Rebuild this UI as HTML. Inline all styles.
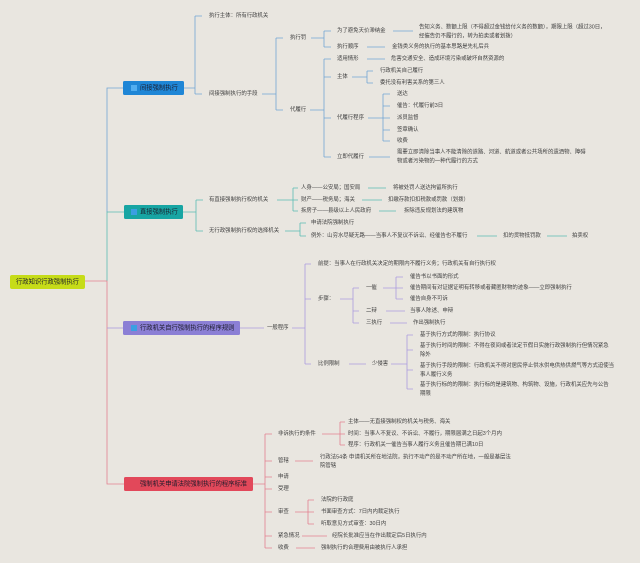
<!DOCTYPE html>
<html><head><meta charset="utf-8"><style>
html,body{margin:0;padding:0;background:#e9e6e0;}
svg{display:block;}
text{font-family:"Liberation Sans","Noto Sans CJK SC",sans-serif;font-size:5.4px;fill:#404040;dominant-baseline:central;}
.n{font-size:6.3px;fill:#1b1b2a;}
.b1{stroke:#72a5d4;}
.b2{stroke:#5abcb3;}
.b3{stroke:#ab9cde;}
.b4{stroke:#e3808f;}
path{fill:none;stroke-width:0.8;}
</style></head><body>
<svg width="640" height="563" viewBox="0 0 640 563" xmlns="http://www.w3.org/2000/svg">
<rect width="640" height="563" fill="#e9e6e0"/>

<!-- trunk -->
<path class="b1" d="M123,88 H107 V212"/>
<path class="b2" d="M124,212 H107 V281"/>
<path class="b4" d="M84,281 H107 V484 H124"/>
<path class="b3" d="M107,328 H123"/>

<!-- root -->
<rect x="10" y="275" width="75" height="14" rx="2" fill="#c6dc18"/>
<text class="n" x="16" y="282">行政知识行政强制执行</text>

<!-- ===== Branch 1 ===== -->
<rect x="123" y="81" width="61" height="14" rx="1.5" fill="#1f86d6"/>
<rect x="131" y="85" width="6" height="6" fill="#52aef0"/>
<text class="n" x="140" y="88">间接强制执行</text>
<path class="b1" d="M184,88 H195 M195,16 V94 M195,16 H202 M195,94 H202"/>
<text x="209" y="16">执行主体：所有行政机关</text>
<text x="209" y="94">间接强制执行的手段</text>
<path class="b1" d="M262,94 H276 M276,38 V110 M276,38 H283 M276,110 H283"/>
<text x="290" y="38">执行罚</text>
<text x="290" y="110">代履行</text>
<path class="b1" d="M311,38 H324 M324,31 V47 M324,31 H331 M324,47 H331"/>
<text x="337" y="31">为了避免天价滞纳金</text>
<path class="b1" d="M393,31 H413"/>
<text x="419" y="27.5">告知义务、数额上限（不得超过金钱给付义务的数额），期限上限（超过30日，</text>
<text x="419" y="36.5">经催告仍不履行的，转为拍卖或者划拨）</text>
<text x="337" y="47">执行顺序</text>
<path class="b1" d="M367,47 H385"/>
<text x="392" y="47">金钱类义务的执行的基本思路是先礼后兵</text>

<path class="b1" d="M310,110 H324 M324,59 V157 M324,59 H331 M324,77 H331 M324,118 H331 M324,157 H331"/>
<text x="337" y="59">适用情形</text>
<path class="b1" d="M367,59 H385"/>
<text x="391" y="59">危害交通安全、造成环境污染或破坏自然资源的</text>
<text x="337" y="77">主体</text>
<path class="b1" d="M352,77 H367 M367,71 V83 M367,71 H373 M367,83 H373"/>
<text x="380" y="71">行政机关自己履行</text>
<text x="380" y="83">委托没有利害关系的第三人</text>
<text x="337" y="118">代履行程序</text>
<path class="b1" d="M368,118 H383 M383,94 V141 M383,94 H390 M383,106 H390 M383,118 H390 M383,130 H390 M383,141 H390"/>
<text x="397" y="94">送达</text>
<text x="397" y="106">催告：代履行前3日</text>
<text x="397" y="118">派员监督</text>
<text x="397" y="130">签章确认</text>
<text x="397" y="141">收费</text>
<text x="337" y="157">立即代履行</text>
<path class="b1" d="M369,157 H390"/>
<text x="397" y="152.5">需要立即清除当事人不能清除的道路、河道、航道或者公共场所的遗洒物、障碍</text>
<text x="397" y="161.5">物或者污染物的一种代履行的方式</text>

<!-- ===== Branch 2 ===== -->
<rect x="124" y="205" width="59" height="14" rx="1.5" fill="#17a5a3"/>
<rect x="131" y="209" width="6" height="6" fill="#3a9fe2"/>
<text class="n" x="140" y="212">直接强制执行</text>
<path class="b2" d="M183,212 H196 M196,200 V231 M196,200 H203 M196,231 H203"/>
<text x="209" y="200">有直接强制执行权的机关</text>
<text x="209" y="231">无行政强制执行权的选择机关</text>
<path class="b2" d="M277,200 H293 M293,188 V211 M293,188 H298 M293,200 H298 M293,211 H298"/>
<text x="301" y="188">人身——公安局；国安局</text>
<text x="301" y="200">财产——税务局；海关</text>
<text x="301" y="211">拆房子——县级以上人民政府</text>
<path class="b2" d="M368,188 H386 M362,200 H382 M379,211 H396"/>
<text x="393" y="188">将被处罚人送达拘留所执行</text>
<text x="388" y="200">扣缴存款扣扣税款或罚款（划拨）</text>
<text x="404" y="211">拆除违反规划法的建筑物</text>
<path class="b2" d="M285,231 H300 M300,223 V236 M300,223 H306 M300,236 H306"/>
<text x="311" y="223">申请法院强制执行</text>
<text x="311" y="236">例外：山穷水尽疑无路——当事人不复议不诉讼、经催告也不履行</text>
<path class="b2" d="M477,236 H497 M547,236 H567"/>
<text x="503" y="236">扣的货物抵罚款</text>
<text x="572" y="236">拍卖权</text>

<!-- ===== Branch 3 ===== -->
<rect x="123" y="321" width="117" height="14" rx="1.5" fill="#8b7fd5"/>
<rect x="131" y="325" width="6" height="6" fill="#3a9fe2"/>
<text class="n" x="140" y="328">行政机关自行强制执行的程序规则</text>
<path class="b3" d="M240,328 H264"/>
<text x="267" y="328">一般程序</text>
<path class="b3" d="M292,328 H305 M305,264 V364 M305,264 H311 M305,299 H311 M305,364 H311"/>
<text x="318" y="264">前提：当事人在行政机关决定的期限内不履行义务；行政机关有自行执行权</text>
<text x="318" y="299">步骤：</text>
<path class="b3" d="M340,299 H353 M353,288 V323 M353,288 H359 M353,311 H359 M353,323 H359"/>
<text x="366" y="288">一催</text>
<text x="366" y="311">二辩</text>
<text x="366" y="323">三执行</text>
<path class="b3" d="M383,288 H396 M396,277 V299 M396,277 H403 M396,288 H403 M396,299 H403"/>
<text x="410" y="277">催告书以书面的形式</text>
<text x="410" y="288">催告期间有对证据证明有转移或者藏匿财物的迹象——立即强制执行</text>
<text x="410" y="299">催告自身不可诉</text>
<path class="b3" d="M386,311 H405 M390,323 H407"/>
<text x="410" y="311">当事人陈述、申辩</text>
<text x="413" y="323">作出强制执行</text>
<text x="318" y="364">比例限制</text>
<path class="b3" d="M349,364 H366"/>
<text x="372" y="364">少侵害</text>
<path class="b3" d="M391,364 H407 M407,335 V389 M407,335 H413 M407,350 H413 M407,370 H413 M407,389 H413"/>
<text x="420" y="335">基于执行方式的限制：执行协议</text>
<text x="420" y="346">基于执行时间的限制：不得在夜间或者法定节假日实施行政强制执行但情况紧急</text>
<text x="420" y="355">除外</text>
<text x="420" y="366">基于执行手段的限制：行政机关不得对居民停止供水供电供热供燃气等方式迫使当</text>
<text x="420" y="375">事人履行义务</text>
<text x="420" y="385">基于执行标的的限制：执行标的是建筑物、构筑物、设施，行政机关应先与公告</text>
<text x="420" y="394">期限</text>

<!-- ===== Branch 4 ===== -->
<rect x="124" y="477" width="129" height="14" rx="1.5" fill="#e2485a"/>
<path d="M131,488 L134,481 L137,488 Z" fill="#3a9fe2" stroke="none"/>
<text class="n" x="140" y="484">强制机关申请法院强制执行的程序标准</text>
<path class="b4" d="M253,484 H265 M265,434 V548 M265,434 H272 M265,461 H272 M265,477 H272 M265,489 H272 M265,512 H272 M265,536 H272 M265,548 H272"/>
<text x="278" y="434">非诉执行的条件</text>
<text x="278" y="461">管辖</text>
<text x="278" y="477">申请</text>
<text x="278" y="489">受理</text>
<text x="278" y="512">审查</text>
<text x="278" y="536">紧急情况</text>
<text x="278" y="548">收费</text>
<path class="b4" d="M322,434 H340 M340,422 V445 M340,422 H345 M340,434 H345 M340,445 H345"/>
<text x="348" y="422">主体——无直接强制权的机关与税务、海关</text>
<text x="348" y="434">时间：当事人不复议、不诉讼、不履行，期限届满之日起3个月内</text>
<text x="348" y="445">程序：行政机关一催告当事人履行义务且催告期已满10日</text>
<path class="b4" d="M295,461 H313"/>
<text x="320" y="457.5">行政法54条 申请机关所在地法院，执行不动产的是不动产所在地，一般是基层法</text>
<text x="320" y="466">院管辖</text>
<path class="b4" d="M295,512 H308 M308,500 V524 M308,500 H314 M308,512 H314 M308,524 H314"/>
<text x="321" y="500">法院的行政庭</text>
<text x="321" y="512">书面审查方式：7日内内裁定执行</text>
<text x="321" y="524">听取意见方式审查：30日内</text>
<path class="b4" d="M302,536 H327 M296,548 H315"/>
<text x="332" y="536">经院长批准应当在作出裁定后5日执行内</text>
<text x="321" y="548">强制执行的合理费用由被执行人承担</text>
</svg>
</body></html>
